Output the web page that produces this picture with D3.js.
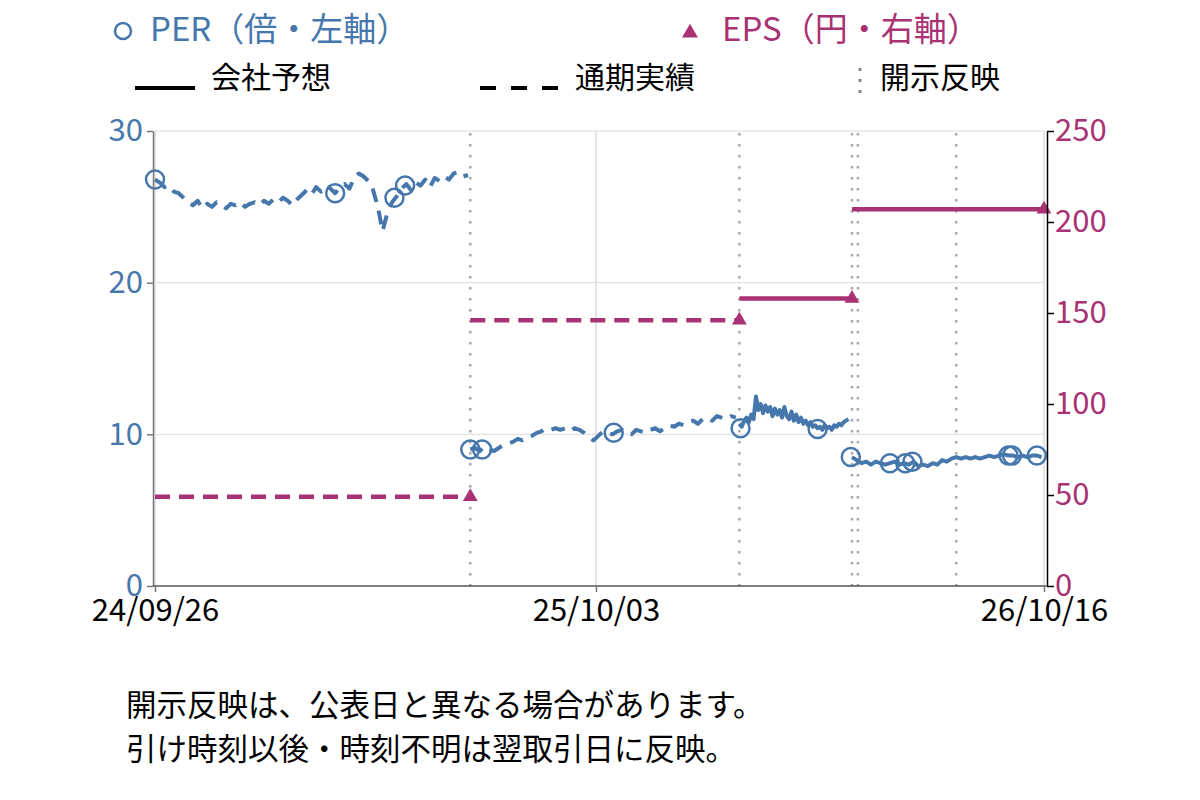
<!DOCTYPE html>
<html>
<head>
<meta charset="utf-8">
<script src="https://cdn.jsdelivr.net/npm/d3@7"></script>
<style>
  body { margin: 0; background: #fff; }
  text { font-family: "Noto Sans CJK JP", "Noto Sans", sans-serif; }
</style>
</head>
<body>
<div id="chart"></div>
<script>
// ---- data ----
const xTickDates = ["2024-09-26", "2025-10-03", "2026-10-16"];
const perTicks = [0, 10, 20, 30];
const epsTicks = [0, 50, 100, 150, 200, 250];

// PER, one value every perSteps[k] days from each start date
const perSteps = [4, 4, 2, 4];
const perStarts = ["2024-09-26", "2025-06-19", "2026-02-01", "2026-05-07"];
const perDashed = [true, true, false, false];
const per1 = [26.8, 26.6, 26.3, 26.4, 26.0, 25.9, 25.6, 25.3, 25.1, 25.4, 24.9, 25.2, 25.0, 25.3, 25.1, 24.9, 25.2,
  25.1, 25.3, 25.0, 25.2, 25.3, 25.1, 25.4, 25.2, 25.5, 25.3, 25.6, 25.4, 25.1, 25.5, 25.8, 26.1, 25.8, 26.3, 26.0,
  26.4, 26.2, 25.9, 26.3, 26.5, 26.2, 26.9, 27.2, 27.0, 26.7, 26.1, 25.0, 23.4, 24.6, 25.3, 25.7, 26.2, 26.5, 26.1,
  26.6, 26.4, 26.8, 26.3, 26.9, 26.7, 27.0, 26.8, 27.2, 27.3, 27.0, 27.1];
const per2 = [9.0, 9.1, 8.9, 9.2, 9.0, 8.9, 9.1, 9.3, 9.4, 9.5, 9.7, 9.6, 9.8, 9.9, 10.1, 10.2, 10.4, 10.3, 10.4, 10.3,
  10.4, 10.2, 10.4, 10.3, 10.1, 9.8, 9.6, 9.9, 10.2, 10.1, 10.0, 10.2, 10.3, 10.1, 10.0, 10.3, 10.2, 10.1, 10.3, 10.4,
  10.2, 10.4, 10.6, 10.5, 10.7, 10.6, 10.8, 10.9, 10.7, 11.0, 11.1, 10.9, 11.2, 11.1, 11.0, 11.2, 11.1];
const per3 = [10.7, 10.5, 10.9, 11.1, 10.8, 11.3, 11.0, 12.5, 11.6, 12.0, 11.4, 11.9, 11.5, 11.8, 11.2, 11.7, 11.3,
  11.6, 11.1, 11.8, 11.2, 11.0, 11.5, 10.9, 11.3, 10.8, 11.1, 10.7, 10.9, 10.6, 10.8, 10.5, 10.6, 10.4, 10.5, 10.3,
  10.6, 10.4, 10.5, 10.3, 10.6, 10.5, 10.7, 10.6, 10.8, 10.9, 11.0];
const per4 = [8.5, 8.3, 8.1, 8.2, 8.0, 8.2, 8.1, 8.0, 8.1, 8.2, 8.0, 8.1, 8.0, 8.2, 7.9, 8.0, 7.9, 8.1, 8.0, 8.3, 8.2,
  8.4, 8.5, 8.4, 8.5, 8.4, 8.5, 8.4, 8.5, 8.6, 8.5, 8.6, 8.7, 8.6, 8.6, 8.5, 8.6, 8.5, 8.6, 8.6, 8.5];
const perSeries = [per1, per2, per3, per4];

const circleDates = ["2024-09-26", "2025-02-25", "2025-04-16", "2025-04-25", "2025-06-19", "2025-06-29",
  "2025-10-18", "2026-02-02", "2026-04-08", "2026-05-06", "2026-06-08", "2026-06-21", "2026-06-27",
  "2026-09-16", "2026-09-19", "2026-10-10"];
const circleValues = [26.8, 25.9, 25.6, 26.4, 9.0, 9.0, 10.1, 10.4, 10.35, 8.5, 8.1, 8.1, 8.2, 8.6, 8.6, 8.6];

// EPS steps
const epsStarts = ["2024-09-26", "2025-06-19", "2026-02-01", "2026-05-07"];
const epsEnds = ["2025-06-19", "2026-02-01", "2026-05-07", "2026-10-16"];
const epsValues = [49, 146, 158, 207];
const epsDashed = [true, true, false, false];

const disclosureDates = ["2025-06-19", "2026-02-01", "2026-05-07", "2026-05-12", "2026-08-03"];

const perColor = "#4677ac";
const epsColor = "#a93274";

const parse = d3.timeParse("%Y-%m-%d");

const svg = d3.select("#chart")
  .append("svg")
    .attr("width", 1200)
    .attr("height", 800);

// scales
const x = d3.scaleTime()
  .domain([parse(xTickDates[0]), parse(xTickDates[2])])
  .range([155, 1044]);
const yL = d3.scaleLinear().domain([0, 30]).range([586, 131]);
const yR = d3.scaleLinear().domain([0, 250]).range([586, 131]);

// gridlines
svg.append("g")
  .selectAll("line")
  .data(perTicks.filter(d => d > 0))
  .join("line")
    .attr("x1", 155).attr("x2", 1044)
    .attr("y1", d => yL(d)).attr("y2", d => yL(d))
    .attr("stroke", "#dcdcdc").attr("stroke-width", 1);
svg.append("g")
  .selectAll("line")
  .data(xTickDates)
  .join("line")
    .attr("x1", d => x(parse(d))).attr("x2", d => x(parse(d)))
    .attr("y1", 131).attr("y2", 586)
    .attr("stroke", "#dcdcdc").attr("stroke-width", 1.5);

// disclosure lines
svg.append("g")
  .selectAll("line")
  .data(disclosureDates)
  .join("line")
    .attr("x1", d => x(parse(d))).attr("x2", d => x(parse(d)))
    .attr("y1", 133).attr("y2", 586)
    .attr("stroke", "#a8a8a8").attr("stroke-width", 2.5)
    .style("stroke-dasharray", "2.5,8.5");

// EPS lines
svg.append("g")
  .selectAll("line")
  .data(epsValues)
  .join("line")
    .attr("x1", (d, i) => x(parse(epsStarts[i])))
    .attr("x2", (d, i) => x(parse(epsEnds[i])))
    .attr("y1", d => yR(d)).attr("y2", d => yR(d))
    .attr("stroke", epsColor).attr("stroke-width", 4.5)
    .style("stroke-dasharray", (d, i) => epsDashed[i] ? "15,9" : null);

// PER lines
const perLine = d3.line()
  .x(d => x(d[0]))
  .y(d => yL(d[1]));
perSeries.forEach(function(vals, k) {
  const start = parse(perStarts[k]);
  const pts = vals.map((v, i) => [d3.timeDay.offset(start, i * perSteps[k]), v]);
  svg.append("path")
    .datum(pts)
    .attr("d", perLine)
    .attr("fill", "none")
    .attr("stroke", perColor)
    .attr("stroke-width", 4)
    .attr("stroke-linejoin", "round")
    .style("stroke-dasharray", perDashed[k] ? "14,9" : null);
});

// PER circles
svg.append("g")
  .selectAll("circle")
  .data(circleValues)
  .join("circle")
    .attr("cx", (d, i) => x(parse(circleDates[i])))
    .attr("cy", d => yL(d))
    .attr("r", 9)
    .attr("fill", "none")
    .attr("stroke", perColor)
    .attr("stroke-width", 2.5);

// EPS triangles
const tri = d3.symbol().type(d3.symbolTriangle).size(95);
svg.append("g")
  .selectAll("path")
  .data(epsValues)
  .join("path")
    .attr("d", tri)
    .attr("transform", (d, i) => `translate(${x(parse(epsEnds[i]))},${yR(d)})`)
    .attr("fill", epsColor);

// ---- axes ----
const leftAxis = svg.append("g")
  .attr("transform", "translate(153,0)")
  .call(d3.axisLeft(yL).tickValues(perTicks).tickSize(6).tickSizeOuter(0));
leftAxis.select(".domain").attr("stroke", "#777").attr("stroke-width", 1.5);
leftAxis.selectAll(".tick line").attr("stroke", "#777").attr("stroke-width", 1.5);
leftAxis.selectAll(".tick text")
  .attr("fill", perColor)
  .style("font-size", "31px")
  .attr("x", -10);

const rightAxis = svg.append("g")
  .attr("transform", "translate(1047,0)")
  .call(d3.axisRight(yR).tickValues(epsTicks).tickSize(7).tickSizeOuter(0));
rightAxis.select(".domain").attr("stroke", "#000").attr("stroke-width", 1.5);
rightAxis.selectAll(".tick line").attr("stroke", "#000").attr("stroke-width", 1.5);
rightAxis.selectAll(".tick text")
  .attr("fill", epsColor)
  .style("font-size", "31px")
  .attr("x", 8);

const bottomAxis = svg.append("g")
  .attr("transform", "translate(0,586)")
  .call(d3.axisBottom(x)
    .tickValues(xTickDates.map(parse))
    .tickFormat(d3.timeFormat("%y/%m/%d"))
    .tickSize(6).tickSizeOuter(0));
bottomAxis.select(".domain").attr("stroke", "#555").attr("stroke-width", 1.5)
  .attr("d", "M153,0H1047");
bottomAxis.selectAll(".tick line").attr("stroke", "#777").attr("stroke-width", 1.5);
bottomAxis.selectAll(".tick text")
  .attr("fill", "#000")
  .style("font-size", "31px")
  .attr("y", 13);

// ---- legend ----
svg.append("circle")
  .attr("cx", 123).attr("cy", 31).attr("r", 8)
  .attr("fill", "none").attr("stroke", perColor).attr("stroke-width", 2.5);
svg.append("text")
  .attr("x", 150).attr("y", 41)
  .attr("fill", perColor)
  .style("font-size", "33px")
  .text("PER（倍・左軸）");

svg.append("path")
  .attr("d", d3.symbol().type(d3.symbolTriangle).size(110))
  .attr("transform", "translate(690,33)")
  .attr("fill", epsColor);
svg.append("text")
  .attr("x", 722).attr("y", 41)
  .attr("fill", epsColor)
  .style("font-size", "33px")
  .text("EPS（円・右軸）");

svg.append("line")
  .attr("x1", 135).attr("x2", 195).attr("y1", 88).attr("y2", 88)
  .attr("stroke", "#000").attr("stroke-width", 4);
svg.append("text")
  .attr("x", 211).attr("y", 88)
  .style("font-size", "30px")
  .text("会社予想");

svg.append("line")
  .attr("x1", 480).attr("x2", 560).attr("y1", 88).attr("y2", 88)
  .attr("stroke", "#000").attr("stroke-width", 4)
  .style("stroke-dasharray", "16,15");
svg.append("text")
  .attr("x", 575).attr("y", 88)
  .style("font-size", "30px")
  .text("通期実績");

svg.append("line")
  .attr("x1", 860).attr("x2", 860).attr("y1", 68).attr("y2", 100)
  .attr("stroke", "#888").attr("stroke-width", 3)
  .style("stroke-dasharray", "3,8");
svg.append("text")
  .attr("x", 880).attr("y", 88)
  .style("font-size", "30px")
  .text("開示反映");

// ---- notes ----
const notes = ["開示反映は、公表日と異なる場合があります。", "引け時刻以後・時刻不明は翌取引日に反映。"];
svg.selectAll("text.note")
  .data(notes)
  .join("text")
    .attr("class", "note")
    .attr("x", 126)
    .attr("y", (d, i) => 716 + i * 44)
    .style("font-size", "30.5px")
    .text(d => d);
</script>
</body>
</html>
